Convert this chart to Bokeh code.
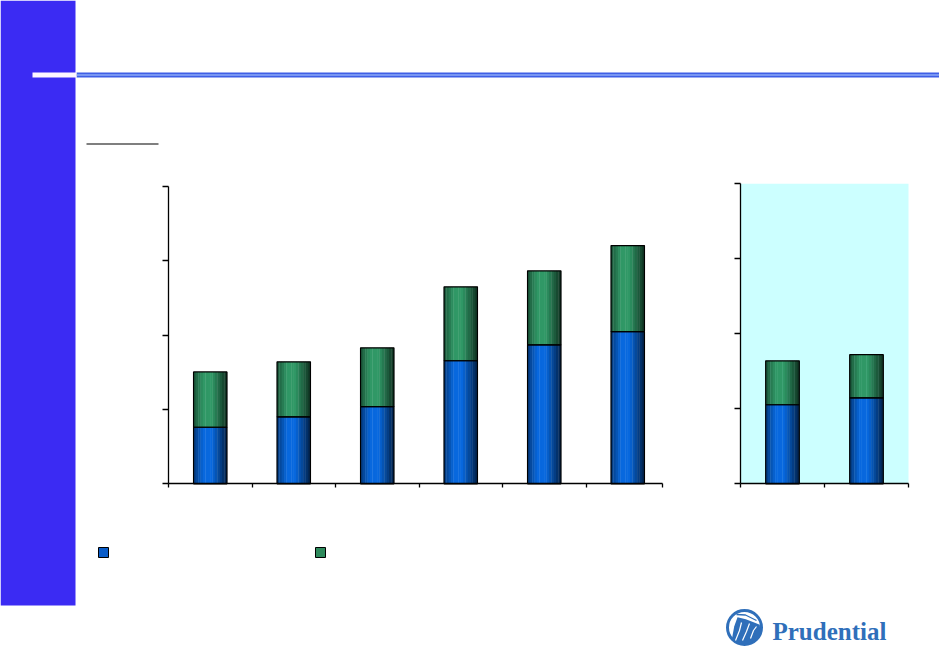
from bokeh.plotting import figure
from bokeh.models import Range1d, FixedTicker, LinearAxis
from bokeh.core.properties import value
from bokeh.embed import file_html
from bokeh.resources import INLINE

# ---- data (arbitrary units, axis ticks every 500) ----
left_categories = ["1", "2", "3", "4", "5", "6"]
left_blue = [380, 450, 518, 827, 934, 1023]
left_green = [372, 370, 396, 497, 497, 578]
right_categories = ["1", "2"]
right_blue = [527, 573]
right_green = [293, 288]
y_ticks = [0, 500, 1000, 1500, 2000]
y_max = 2000

# ---- page geometry (pixels) ----
W, H = 939, 648
L_X0, L_PX_CAT, L_X_END = 168.0, 83.5, 662.0      # left plot area
L_Y0, L_Y_TOP = 483.3, 185.7
R_X0, R_PX_CAT = 740.0, 84.0                      # right plot area
R_Y0, R_Y_TOP = 483.3, 183.3

BLUE_BRIGHT = (8, 104, 222)
GREEN_BRIGHT = (48, 152, 102)
N_STRIPS = 14
BAR_W = 0.40

p = figure(width=W, height=H, output_backend="svg", toolbar_location=None,
           x_range=Range1d(0, W), y_range=Range1d(H, 0),
           x_axis_type=None, y_axis_type=None, min_border=0)
p.outline_line_color = None
p.grid.visible = False
p.background_fill_color = "white"
p.border_fill_color = "white"


def x_range_for(px0, px_per_unit):
    return Range1d(-px0 / px_per_unit, (W - px0) / px_per_unit)


def y_range_for(px0, px_top):
    k = y_max / (px0 - px_top)          # value units per pixel
    return Range1d((px0 - H) * k, px0 * k)


p.extra_x_ranges = {"LX": x_range_for(L_X0, L_PX_CAT), "RX": x_range_for(R_X0, R_PX_CAT)}
p.extra_y_ranges = {"LY": y_range_for(L_Y0, L_Y_TOP), "RY": y_range_for(R_Y0, R_Y_TOP)}


def shade(rgb, t):
    pts = [(0.0, 0.55), (0.3, 1.0), (0.55, 1.0), (1.0, 0.33)]
    f = 1.0
    for (t0, f0), (t1, f1) in zip(pts[:-1], pts[1:]):
        if t0 <= t <= t1:
            f = f0 + (f1 - f0) * (t - t0) / (t1 - t0)
            break
    r, g, b = [max(0, min(255, int(c * f))) for c in rgb]
    return "#%02x%02x%02x" % (r, g, b)


def draw_bars(blue, green, xr, yr):
    xs = [i + 0.5 for i in range(len(blue))]
    tops = [b + g for b, g in zip(blue, green)]
    sw = BAR_W / N_STRIPS
    for k in range(N_STRIPS):
        t = (k + 0.5) / N_STRIPS
        off = -BAR_W / 2 + (k + 0.5) * sw
        xk = [x + off for x in xs]
        p.vbar(x=xk, width=sw * 1.15, bottom=0, top=blue, x_range_name=xr, y_range_name=yr,
               fill_color=shade(BLUE_BRIGHT, t), line_color=None)
        p.vbar(x=xk, width=sw * 1.15, bottom=blue, top=tops, x_range_name=xr, y_range_name=yr,
               fill_color=shade(GREEN_BRIGHT, t), line_color=None)
    p.vbar(x=xs, width=BAR_W, bottom=0, top=blue, x_range_name=xr, y_range_name=yr,
           fill_color=None, line_color="black", line_width=1.2)
    p.vbar(x=xs, width=BAR_W, bottom=blue, top=tops, x_range_name=xr, y_range_name=yr,
           fill_color=None, line_color="black", line_width=1.2)


def add_axes(xr, yr, n_cat, x_end):
    xticks = list(range(n_cat)) + [x_end]
    xa = LinearAxis(x_range_name=xr, y_range_name=yr, fixed_location=0,
                    bounds=(0, x_end), ticker=FixedTicker(ticks=xticks))
    ya = LinearAxis(x_range_name=xr, y_range_name=yr, fixed_location=0,
                    bounds=(0, y_max), ticker=FixedTicker(ticks=y_ticks))
    for ax, out in ((xa, 4), (ya, 6)):
        ax.major_label_text_font_size = "0px"
        ax.major_label_text_alpha = 0
        ax.minor_tick_line_color = None
        ax.major_tick_in = 0
        ax.major_tick_out = out
        ax.axis_line_color = "black"
        ax.axis_line_width = 1.3
        ax.major_tick_line_color = "black"
        ax.major_tick_line_width = 1.3
    p.add_layout(xa, "below")
    p.add_layout(ya, "left")


# ---- decorations in page pixels ----
p.quad(left=0, right=75, top=0, bottom=605, fill_color="#3b2bf3", line_color=None)
p.quad(left=76, right=W, top=72, bottom=77, fill_color="#3f5fe6", line_color=None)
p.quad(left=76, right=W, top=73.5, bottom=75.5, fill_color="#7896f2", line_color=None)
p.quad(left=32, right=76, top=72, bottom=77, fill_color="#fdf6ff", line_color=None)
p.quad(left=86, right=158, top=143, bottom=144, fill_color="black", line_color=None)
p.quad(left=98, right=108, top=547, bottom=557, fill_color="#0a5cc8", line_color="black", line_width=1)
p.quad(left=315, right=325, top=547, bottom=557, fill_color="#2e8a5c", line_color="black", line_width=1)

# right plot background
p.quad(left=0, right=len(right_categories), bottom=0, top=y_max, x_range_name="RX",
       y_range_name="RY", fill_color="#ccffff", line_color=None)

# ---- bars & axes ----
draw_bars(left_blue, left_green, "LX", "LY")
draw_bars(right_blue, right_green, "RX", "RY")
add_axes("LX", "LY", len(left_categories), (L_X_END - L_X0) / L_PX_CAT)
add_axes("RX", "RY", len(right_categories), len(right_categories))

# ---- logo ----
LOGO = "#2f6fba"
cx, cy, rad = 744, 627, 17
p.circle(x=[cx], y=[cy], radius=rad, fill_color="white", line_color=LOGO, line_width=3)
rock_x = [-12.7, -10.3, -7, 1.3, 9.7, 15.3, 16, 13, 4.7, -5.3]
rock_y = [12.3, -1, -10.3, -8.3, -5, -2.7, 5.7, 12.3, 16, 16]
p.patch(x=[cx + v for v in rock_x], y=[cy + v for v in rock_y], fill_color=LOGO, line_color=None)
p.line(x=[cx - 8, cx + 1, cx + 12], y=[cy - 13, cy - 12.5, cy - 7], line_color=LOGO, line_width=1.3)
p.line(x=[cx - 9, cx - 5, cx - 3], y=[cy + 13, cy + 3, cy - 5], line_color="white", line_width=1.2)
p.line(x=[cx - 2, cx + 2, cx + 5], y=[cy + 13, cy + 4, cy - 4], line_color="white", line_width=1.2)
p.line(x=[cx + 6, cx + 9, cx + 12], y=[cy + 11, cy + 3, cy - 1], line_color="white", line_width=1.2)
p.text(x=[772], y=[630.5], text=["Prudential"], text_font=value("Liberation Serif"),
       text_font_style="bold", text_font_size="25px", text_color=LOGO,
       text_baseline="middle", text_align="left")

open("out.html", "w").write(file_html(p, INLINE))
